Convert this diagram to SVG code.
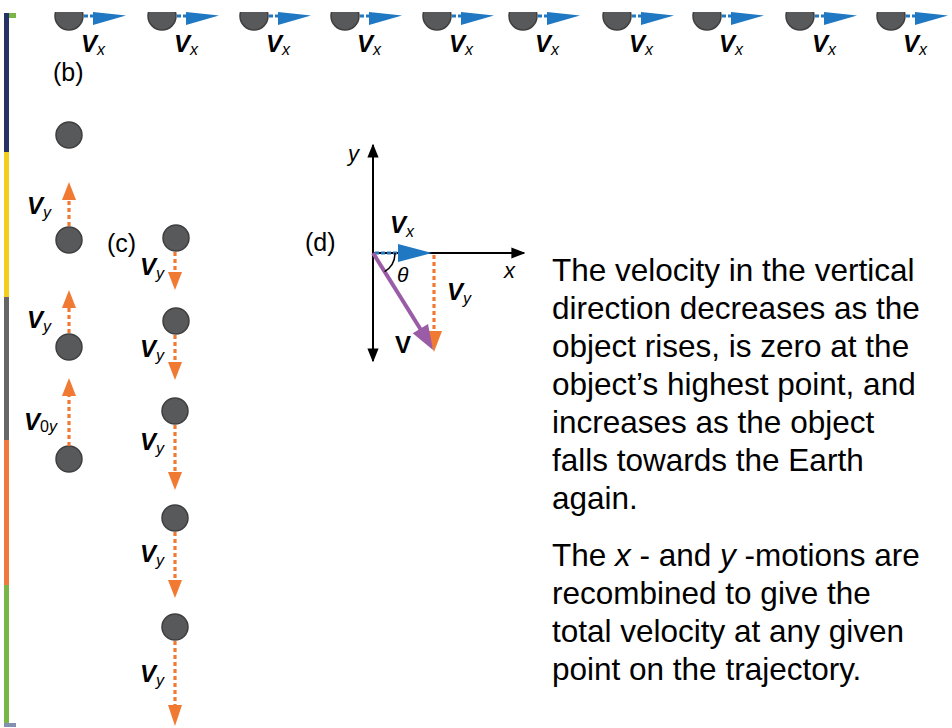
<svg xmlns="http://www.w3.org/2000/svg" width="952" height="728" viewBox="0 0 952 728">
<style>
.ball{fill:#58595b;stroke:#3f3f40;stroke-width:1.5}
.lbl{font-family:"Liberation Sans",Arial,sans-serif;fill:#000}
.V{font-size:24px;font-weight:bold;font-style:italic}
.sub{font-size:16px;font-style:italic;font-weight:normal}
.tag{font-size:25px}
.body{font-family:"Liberation Sans",Arial,sans-serif;font-size:31.5px;fill:#000}
.od{stroke:#f07a32;stroke-width:3.2;stroke-dasharray:4 3;fill:none}
.oh{fill:#f07a32}
.bd{stroke:#1f78c1;stroke-width:3;stroke-dasharray:4 2;fill:none}
.bh{fill:#1f78c1}
.ax{stroke:#000;stroke-width:2;fill:none}
</style>
<defs>
<clipPath id="topclip"><rect x="0" y="12" width="952" height="60"/></clipPath>
<marker id="ah" viewBox="0 0 10 10" refX="9" refY="5" markerWidth="7" markerHeight="7" orient="auto"><path d="M0,1 L10,5 L0,9 z" fill="#000"/></marker>
</defs>
<rect width="952" height="728" fill="#fff"/>
<!-- left colour strip -->
<g id="strip">
<rect x="4" y="13" width="5" height="139" fill="#263165"/>
<rect x="4" y="152" width="5" height="145" fill="#f5cd1c"/>
<rect x="4" y="297" width="5" height="143" fill="#666667"/>
<rect x="4" y="440" width="5" height="145" fill="#f07a3c"/>
<rect x="4" y="585" width="5" height="138" fill="#7ab547"/>
<rect x="9" y="13" width="7" height="5" fill="#7ab547"/>
<rect x="4" y="723" width="12" height="4" fill="#8490b0"/>
</g>
<!-- top row (a) -->
<g id="toprow" clip-path="url(#topclip)">
<g id="a1"><circle class="ball" cx="69" cy="16" r="14"/><line class="bd" x1="84" y1="16" x2="93" y2="16"/><polygon class="bh" points="93,12 126,15.5 93,25"/></g>
<g id="a2"><circle class="ball" cx="162" cy="16" r="14"/><line class="bd" x1="177" y1="16" x2="186" y2="16"/><polygon class="bh" points="186,12 219,15.5 186,25"/></g>
<g id="a3"><circle class="ball" cx="254" cy="16" r="14"/><line class="bd" x1="269" y1="16" x2="278" y2="16"/><polygon class="bh" points="278,12 311,15.5 278,25"/></g>
<g id="a4"><circle class="ball" cx="345" cy="16" r="14"/><line class="bd" x1="360" y1="16" x2="369" y2="16"/><polygon class="bh" points="369,12 402,15.5 369,25"/></g>
<g id="a5"><circle class="ball" cx="437" cy="16" r="14"/><line class="bd" x1="452" y1="16" x2="461" y2="16"/><polygon class="bh" points="461,12 494,15.5 461,25"/></g>
<g id="a6"><circle class="ball" cx="523" cy="16" r="14"/><line class="bd" x1="538" y1="16" x2="547" y2="16"/><polygon class="bh" points="547,12 580,15.5 547,25"/></g>
<g id="a7"><circle class="ball" cx="617" cy="16" r="14"/><line class="bd" x1="632" y1="16" x2="641" y2="16"/><polygon class="bh" points="641,12 674,15.5 641,25"/></g>
<g id="a8"><circle class="ball" cx="707" cy="16" r="14"/><line class="bd" x1="722" y1="16" x2="731" y2="16"/><polygon class="bh" points="731,12 764,15.5 731,25"/></g>
<g id="a9"><circle class="ball" cx="800" cy="16" r="14"/><line class="bd" x1="815" y1="16" x2="824" y2="16"/><polygon class="bh" points="824,12 857,15.5 824,25"/></g>
<g id="a10"><circle class="ball" cx="891" cy="16" r="14"/><line class="bd" x1="906" y1="16" x2="915" y2="16"/><polygon class="bh" points="915,12 948,15.5 915,25"/></g>
</g>
<g id="toplabels" class="lbl">
<text class="V" x="81" y="52">V<tspan class="sub" dy="3">x</tspan></text>
<text class="V" x="174" y="52">V<tspan class="sub" dy="3">x</tspan></text>
<text class="V" x="266" y="52">V<tspan class="sub" dy="3">x</tspan></text>
<text class="V" x="357" y="52">V<tspan class="sub" dy="3">x</tspan></text>
<text class="V" x="449" y="52">V<tspan class="sub" dy="3">x</tspan></text>
<text class="V" x="535" y="52">V<tspan class="sub" dy="3">x</tspan></text>
<text class="V" x="629" y="52">V<tspan class="sub" dy="3">x</tspan></text>
<text class="V" x="719" y="52">V<tspan class="sub" dy="3">x</tspan></text>
<text class="V" x="812" y="52">V<tspan class="sub" dy="3">x</tspan></text>
<text class="V" x="903" y="52">V<tspan class="sub" dy="3">x</tspan></text>
</g>
<!-- column (b) -->
<g id="b">
<text class="lbl tag" x="53" y="81">(b)</text>
<g id="b1"><circle class="ball" cx="69" cy="135" r="13"/></g>
<g id="b2"><circle class="ball" cx="69" cy="240" r="13"/><text class="lbl V" x="27" y="214">V<tspan class="sub" dy="4">y</tspan></text></g>
<g id="b3"><circle class="ball" cx="69" cy="347" r="13"/><text class="lbl V" x="27" y="328">V<tspan class="sub" dy="4">y</tspan></text></g>
<g id="b4"><circle class="ball" cx="69" cy="459" r="13"/><text class="lbl V" x="24" y="430">V<tspan class="sub" dy="2" style="font-style:normal">0</tspan><tspan class="sub">y</tspan></text></g>
</g>
<!-- column (c) -->
<g id="c">
<text class="lbl tag" x="107" y="252">(c)</text>
<g id="c1"><circle class="ball" cx="176" cy="238" r="13"/><text class="lbl V" x="140" y="275">V<tspan class="sub" dy="4">y</tspan></text></g>
<g id="c2"><circle class="ball" cx="176" cy="321" r="13"/><text class="lbl V" x="140" y="357">V<tspan class="sub" dy="4">y</tspan></text></g>
<g id="c3"><circle class="ball" cx="175" cy="411" r="13"/><text class="lbl V" x="140" y="450">V<tspan class="sub" dy="4">y</tspan></text></g>
<g id="c4"><circle class="ball" cx="175" cy="518" r="13"/><text class="lbl V" x="140" y="562">V<tspan class="sub" dy="4">y</tspan></text></g>
<g id="c5"><circle class="ball" cx="175" cy="627" r="13"/><text class="lbl V" x="140" y="682">V<tspan class="sub" dy="4">y</tspan></text></g>
</g>
<!-- connectors: velocity arrows -->
<g id="connectors">
<line class="od" x1="69" y1="226" x2="69" y2="199"/><polygon class="oh" points="62,200 76,200 69,182"/>
<line class="od" x1="69" y1="333" x2="69" y2="307"/><polygon class="oh" points="62,308 76,308 69,290"/>
<line class="od" x1="69" y1="446" x2="69" y2="395"/><polygon class="oh" points="62,396 76,396 69,378"/>
<line class="od" x1="175" y1="252" x2="175" y2="273"/><polygon class="oh" points="168,272 182,272 175,290"/>
<line class="od" x1="175" y1="335" x2="175" y2="363"/><polygon class="oh" points="168,362 182,362 175,380"/>
<line class="od" x1="175" y1="425" x2="175" y2="473"/><polygon class="oh" points="168,472 182,472 175,490"/>
<line class="od" x1="175" y1="532" x2="175" y2="581"/><polygon class="oh" points="168,580 182,580 175,598"/>
<line class="od" x1="175" y1="641" x2="175" y2="706"/><polygon class="oh" points="168,705 182,705 175,726"/>
</g>
<!-- (d) vector diagram -->
<g id="d">
<text class="lbl tag" x="305" y="251">(d)</text>
<line class="ax" x1="373" y1="200" x2="373" y2="145" marker-end="url(#ah)"/>
<line class="ax" x1="373" y1="200" x2="373" y2="361" marker-end="url(#ah)"/>
<line class="ax" x1="373" y1="253" x2="524" y2="253" marker-end="url(#ah)"/>
<text class="lbl" x="348" y="161" font-size="22" font-style="italic">y</text>
<text class="lbl" x="504" y="278" font-size="22" font-style="italic">x</text>
<line class="bd" x1="375" y1="253" x2="398" y2="253"/>
<polygon class="bh" points="398,244 432,253 398,262"/>
<text class="lbl V" x="390" y="233">V<tspan class="sub" dy="4">x</tspan></text>
<line class="od" x1="434" y1="255" x2="434" y2="333"/>
<polygon class="oh" points="426,331 442,331 434,352"/>
<line x1="373" y1="253" x2="421" y2="330" stroke="#9a5ca6" stroke-width="4"/>
<polygon points="412.7,333.3 428,323.9 433,350" fill="#9a5ca6"/>
<path d="M395,253 A22,22 0 0 1 384.6,271.7" stroke="#000" stroke-width="1.5" fill="none"/>
<text class="lbl" x="397" y="282" font-size="21" font-style="italic" font-family="Liberation Serif,serif">θ</text>
<text class="lbl V" x="447" y="300">V<tspan class="sub" dy="4">y</tspan></text>
<text class="lbl" x="395" y="353" font-size="24" font-weight="bold">V</text>
</g>
<!-- explanatory text -->
<g id="text1" class="body">
<text x="552" y="281">The velocity in the vertical</text>
<text x="552" y="319">direction decreases as the</text>
<text x="552" y="357">object rises, is zero at the</text>
<text x="552" y="395">object’s highest point, and</text>
<text x="552" y="433">increases as the object</text>
<text x="552" y="471">falls towards the Earth</text>
<text x="552" y="509">again.</text>
</g>
<g id="text2" class="body">
<text x="552" y="566">The <tspan font-style="italic">x</tspan> - and <tspan font-style="italic">y</tspan> -motions are</text>
<text x="552" y="604">recombined to give the</text>
<text x="552" y="642">total velocity at any given</text>
<text x="552" y="680">point on the trajectory.</text>
</g>
</svg>
